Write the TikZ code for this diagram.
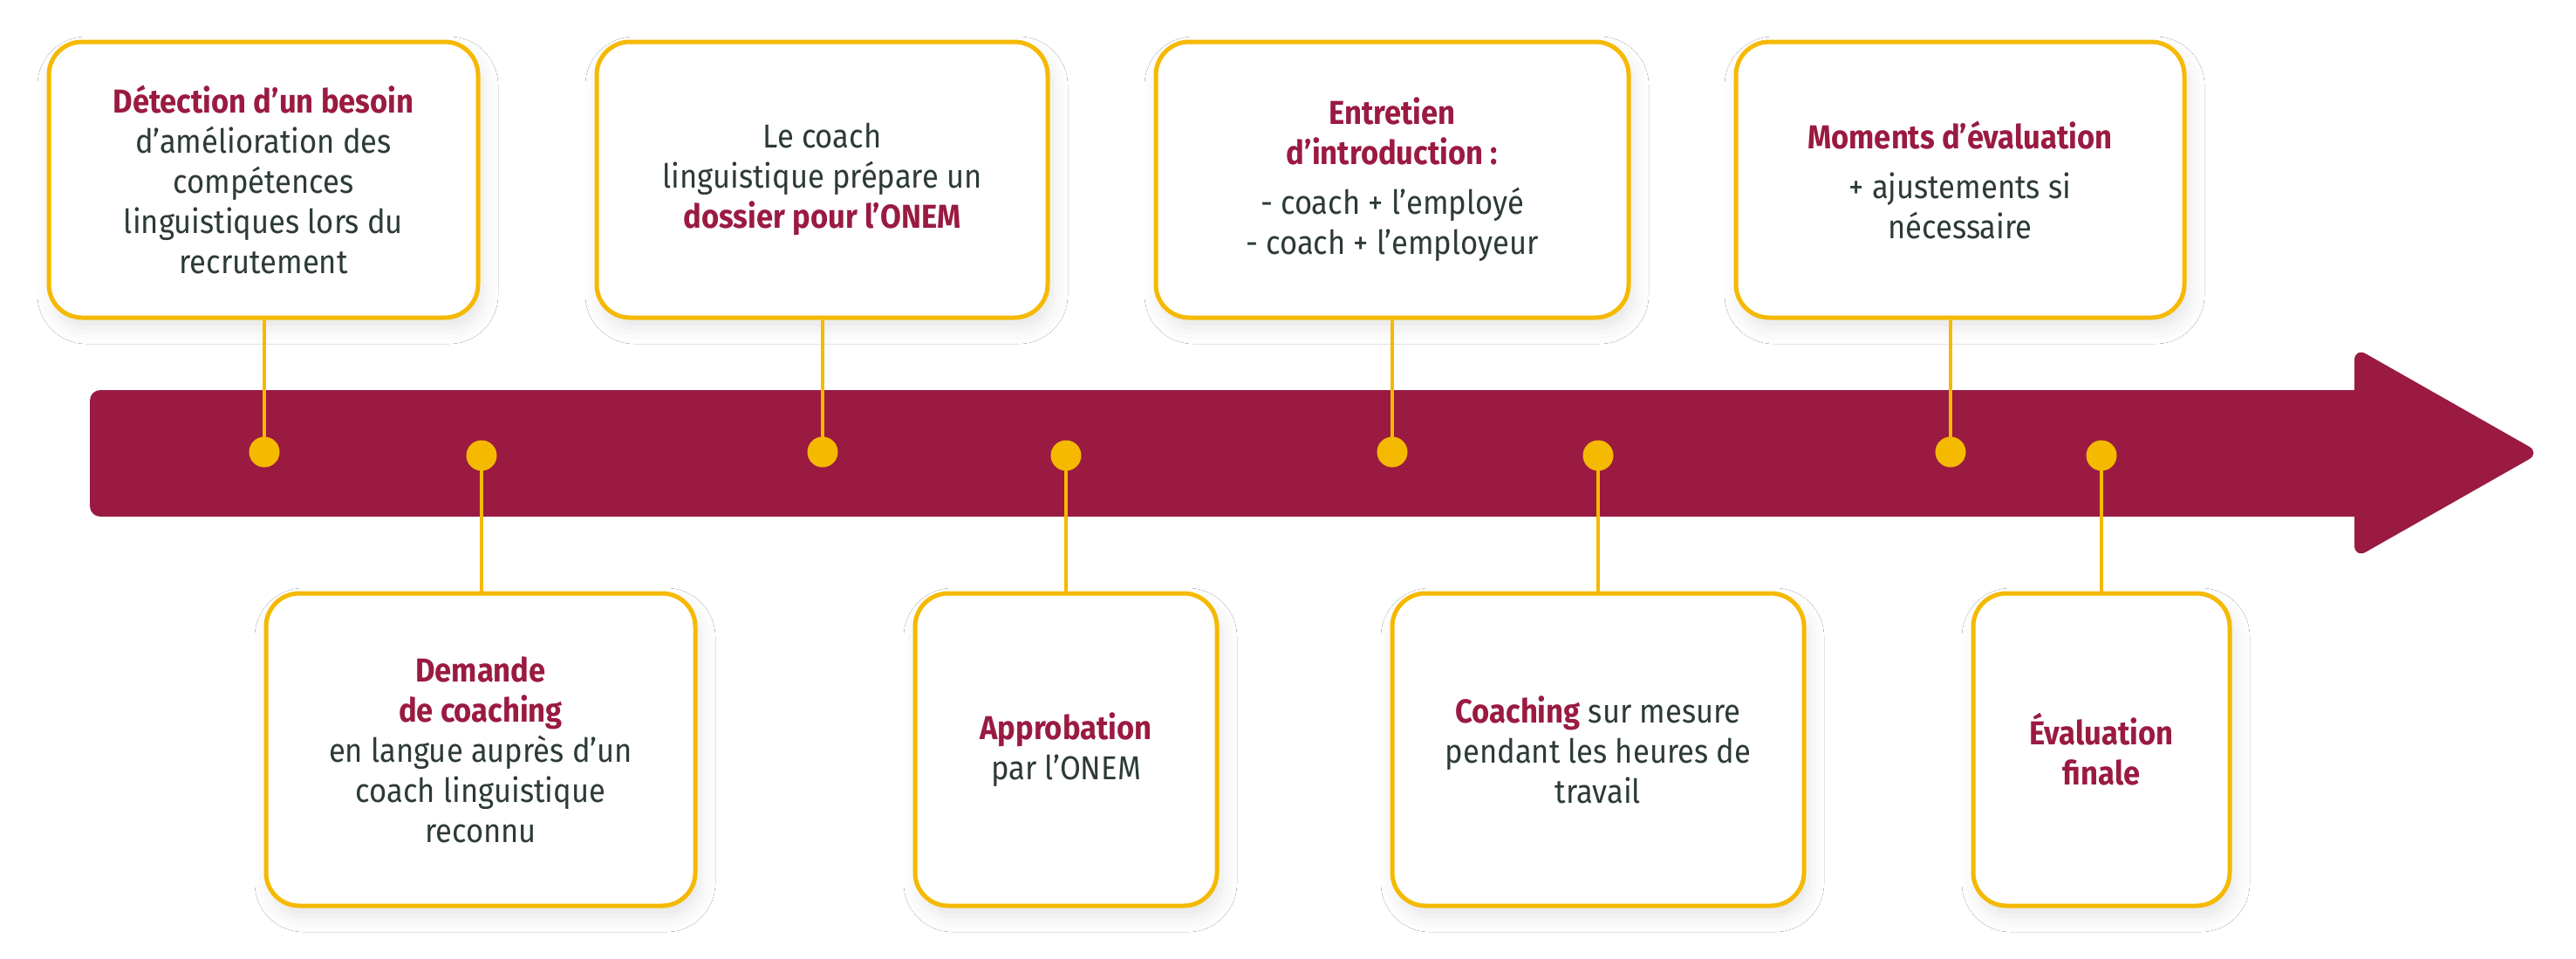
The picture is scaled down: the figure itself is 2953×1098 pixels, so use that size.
\documentclass[tikz,border=0pt]{standalone}
\usepackage{fontspec}
\setmainfont{Fira Sans}[FakeStretch=0.91]
\usetikzlibrary{shadows.blur}
\definecolor{maroon}{HTML}{9A1A42}
\definecolor{gold}{HTML}{F5B900}
\definecolor{ink}{HTML}{2C3A38}
\newcommand\emphb[1]{\textcolor{maroon}{\bfseries #1}}
\tikzset{
  card/.style={draw=gold, line width=5pt, fill=white, rounded corners=38pt,
    align=center, text=ink, font=\fontsize{38}{46}\selectfont, inner sep=0pt,
    blur shadow={shadow xshift=5pt, shadow yshift=-12pt, shadow blur radius=18pt, shadow opacity=10}},
  topcard/.style={card, minimum height=316pt},
  botcard/.style={card, minimum height=358pt},
  link/.style={draw=gold, line width=3.5pt},
  pin/.style={circle, fill=gold, minimum size=35pt, inner sep=0pt},
}
\begin{document}
\begin{tikzpicture}[x=1pt,y=-1pt]
\useasboundingbox[fill=white] (0,0) rectangle (2953,1098);
% timeline arrow
\fill[maroon, rounded corners=12pt] (103,447) rectangle (2730,592);
\fill[maroon, rounded corners=15pt] (2699,398) -- (2912,519) -- (2699,640) -- cycle;
% cards
\node[topcard, minimum width=492pt] (t1) at (302,206) {\emphb{Détection d’un besoin}\\ d’amélioration des\\ compétences\\ linguistiques lors du\\ recrutement};
\node[topcard, minimum width=517pt] (t2) at (942.5,206) {Le coach\\ linguistique prépare un\\ \emphb{dossier pour l’ONEM}};
\node[topcard, minimum width=542pt] (t3) at (1596,206) {\emphb{Entretien}\\ \emphb{d’introduction :}\\[11pt] - coach + l’employé\\ - coach + l’employeur};
\node[topcard, minimum width=514pt] (t4) at (2247,206) {\emphb{Moments d’évaluation}\\[11pt] + ajustements si\\ nécessaire};
\node[botcard, minimum width=492pt] (b1) at (551,859) {\emphb{Demande}\\ \emphb{de coaching}\\ en langue auprès d’un\\ coach linguistique\\ reconnu};
\node[botcard, minimum width=346pt] (b2) at (1222,859) {\emphb{Approbation}\\ par l’ONEM};
\node[botcard, minimum width=472pt] (b3) at (1832,859) {\emphb{Coaching} sur mesure\\ pendant les heures de\\ travail};
\node[botcard, minimum width=294pt] (b4) at (2409,859) {\emphb{Évaluation}\\ \emphb{finale}};
% pins
\coordinate (p1) at (303,518);
\coordinate (p2) at (943,518);
\coordinate (p3) at (1596,518);
\coordinate (p4) at (2236,518);
\coordinate (q1) at (552,522);
\coordinate (q2) at (1222,522);
\coordinate (q3) at (1832,522);
\coordinate (q4) at (2409,522);
\foreach \c/\p in {t1/p1,t2/p2,t3/p3,t4/p4}{\draw[link] (\c.south -| \p) -- (\p);}
\foreach \c/\p in {b1/q1,b2/q2,b3/q3,b4/q4}{\draw[link] (\c.north -| \p) -- (\p);}
\foreach \p in {p1,p2,p3,p4,q1,q2,q3,q4}{\node[pin] (n\p) at (\p) {};}
\end{tikzpicture}
\end{document}
